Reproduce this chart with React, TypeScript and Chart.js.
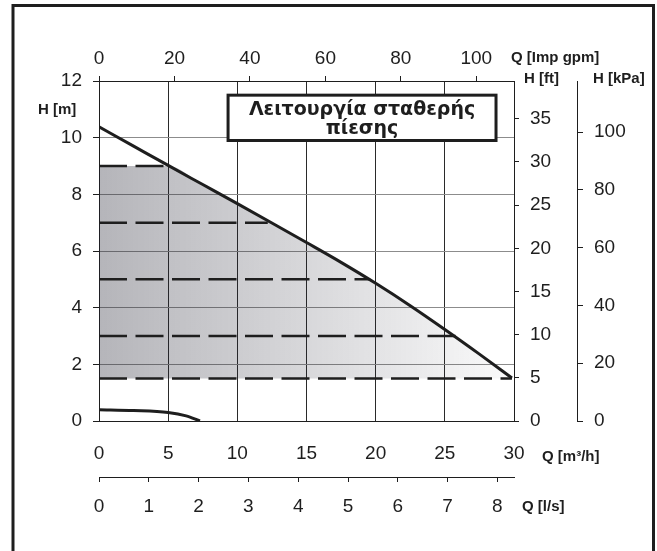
import React, { useEffect, useRef } from "react";
import { Chart, registerables } from "chart.js";

Chart.register(...registerables);

// Pump curve (flow in m³/h, head in m)
const flowM3h = [0, 2.5, 5, 7.5, 10, 12.5, 15, 17.5, 20, 22.5, 25, 27.5, 29.85];
const headM = [10.38, 9.7, 9.02, 8.345, 7.67, 6.99, 6.3, 5.6, 4.86, 4.07, 3.23, 2.36, 1.52];

// Lower (minimum) curve
const lowFlowM3h = [0, 2.5, 5, 6.3, 7.3];
const lowHeadM = [0.4, 0.37, 0.3, 0.18, 0.0];

// Constant pressure set points (dashed lines) and where they meet the curve
const pressureLevelsM = [9, 7, 5, 3, 1.5];
const pressureLevelEndFlow = [5.0, 12.2, 19.6, 25.8, 29.85];

// Axis ranges / steps
const flowMax = 30;
const headMax = 12;
const flowStepM3h = 5;
const headStepM = 2;
const gpmStep = 20;
const lpsStep = 1;
const ftStep = 5;
const kpaStep = 20;

// Unit conversions
const GPM_PER_M3H = 3.6662;
const LPS_PER_M3H = 1 / 3.6;
const FT_PER_M = 3.28084;
const KPA_PER_M = 9.80665;

const titleLines = ["Λειτουργία σταθερής", "πίεσης"];
const axisTitles = {
  hm: "H [m]",
  gpm: "Q [Imp gpm]",
  ft: "H [ft]",
  kpa: "H [kPa]",
  m3h: "Q [m³/h]",
  lps: "Q [l/s]",
};

const INK = "#1e1e1e";
const FONT = "'Liberation Sans', Arial, sans-serif";
const tickFont = { family: FONT, size: 19 };

export default function App() {
  const ref = useRef<HTMLCanvasElement>(null);

  useEffect(() => {
    const canvas = ref.current;
    if (!canvas) return;

    const curve = flowM3h.map((x, i) => ({ x, y: headM[i] }));
    const low = lowFlowM3h.map((x, i) => ({ x, y: lowHeadM[i] }));
    const top = pressureLevelsM[0];
    const fillPts = [
      { x: 0, y: top },
      ...curve.filter((p) => p.x >= pressureLevelEndFlow[0]).map((p) => ({ x: p.x, y: Math.min(p.y, top) })),
    ];
    const bottomLevel = pressureLevelsM[pressureLevelsM.length - 1];

    const dashSets = pressureLevelsM.map((h, i) => ({
      data: [
        { x: 0, y: h },
        { x: pressureLevelEndFlow[i], y: h },
      ],
      borderColor: INK,
      borderWidth: 2.5,
      borderDash: [28, 8.5],
      borderCapStyle: "butt" as const,
      pointRadius: 0,
      fill: false,
      tension: 0,
      order: 2,
    }));

    const decor = {
      id: "decor",
      afterDraw(chart: any) {
        const { ctx, scales } = chart;
        const xs = scales.x;
        const ys = scales.y;
        ctx.save();
        // outer frame
        ctx.strokeStyle = INK;
        ctx.lineWidth = 3;
        ctx.strokeRect(13, 5.5, 640.5, 700);
        // title box
        const bl = xs.getPixelForValue(9.33);
        const br = xs.getPixelForValue(28.7);
        const bt = ys.getPixelForValue(11.5);
        const bb = ys.getPixelForValue(9.9);
        ctx.fillStyle = "#fff";
        ctx.fillRect(bl, bt, br - bl, bb - bt);
        ctx.lineWidth = 3;
        ctx.strokeRect(bl, bt, br - bl, bb - bt);
        ctx.fillStyle = INK;
        ctx.font = "bold 19px 'DejaVu Sans', sans-serif";
        ctx.textAlign = "center";
        ctx.textBaseline = "middle";
        const cx = (bl + br) / 2;
        ctx.fillText(titleLines[0], cx, bt + 15);
        ctx.fillText(titleLines[1], cx, bt + 34);
        // axis titles
        ctx.font = `bold 15px ${FONT}`;
        ctx.textAlign = "left";
        ctx.fillText(axisTitles.hm, 38, 110);
        ctx.fillText(axisTitles.gpm, 511, 58);
        ctx.fillText(axisTitles.ft, 524, 79);
        ctx.fillText(axisTitles.kpa, 593, 79);
        ctx.fillText(axisTitles.m3h, 542, 457);
        ctx.fillText(axisTitles.lps, 522, 507);
        ctx.restore();
      },
    };

    const chart = new Chart(canvas, {
      type: "line",
      data: {
        datasets: [
          {
            data: curve,
            borderColor: INK,
            borderWidth: 3,
            pointRadius: 0,
            fill: false,
            cubicInterpolationMode: "monotone",
            order: 0,
          },
          {
            data: low,
            borderColor: INK,
            borderWidth: 3,
            pointRadius: 0,
            fill: false,
            cubicInterpolationMode: "monotone",
            order: 1,
          },
          ...dashSets,
          {
            data: fillPts,
            borderWidth: 0,
            borderColor: "rgba(0,0,0,0)",
            pointRadius: 0,
            cubicInterpolationMode: "monotone",
            fill: { value: bottomLevel },
            backgroundColor: (c: any) => {
              const area = c.chart.chartArea;
              if (!area) return "rgba(30,30,45,0.2)";
              const g = c.chart.ctx.createLinearGradient(area.left, 0, area.right, 0);
              g.addColorStop(0, "rgba(30,30,45,0.33)");
              g.addColorStop(1, "rgba(30,30,45,0.02)");
              return g;
            },
            order: 10,
          } as any,
        ],
      },
      options: {
        responsive: false,
        animation: false,
        devicePixelRatio: 1,
        layout: { padding: { left: 0, right: 20, top: 0, bottom: 0 } },
        plugins: { legend: { display: false }, tooltip: { enabled: false } },
        scales: {
          x: {
            type: "linear",
            position: "bottom",
            weight: 0,
            min: 0,
            max: flowMax,
            ticks: { stepSize: flowStepM3h, padding: 21, color: INK, font: tickFont, maxRotation: 0, includeBounds: false },
            grid: { color: "#2a2a2a", lineWidth: 1, drawTicks: false },
            border: { display: true, color: INK, width: 1 },
            afterFit: (s: any) => {
              s.height = 56;
            },
          },
          x3: {
            type: "linear",
            position: "bottom",
            weight: 1,
            min: 0,
            max: flowMax * LPS_PER_M3H,
            ticks: { stepSize: lpsStep, padding: 13, color: INK, font: tickFont, maxRotation: 0, includeBounds: false },
            grid: { drawOnChartArea: false, tickLength: 5, color: INK },
            border: { display: true, color: INK, width: 1 },
            afterFit: (s: any) => {
              s.height = 74;
            },
          },
          x2: {
            type: "linear",
            position: "top",
            min: 0,
            max: flowMax * GPM_PER_M3H,
            ticks: { stepSize: gpmStep, padding: 6, color: INK, font: tickFont, maxRotation: 0, includeBounds: false },
            grid: { drawOnChartArea: false, tickLength: 5, color: INK },
            border: { display: true, color: INK, width: 1 },
            afterFit: (s: any) => {
              s.height = 81;
            },
          },
          y: {
            type: "linear",
            position: "left",
            min: 0,
            max: headMax,
            ticks: { stepSize: headStepM, padding: 11, color: INK, font: tickFont, includeBounds: false },
            grid: {
              color: (c: any) =>
                c.tick && (c.tick.value === 0 || c.tick.value === headMax) ? "rgba(0,0,0,0)" : "#8c8c8c",
              tickColor: INK,
              tickLength: 6,
              lineWidth: 1,
            },
            border: { display: true, color: INK, width: 1 },
            afterFit: (s: any) => {
              s.width = 99;
            },
          },
          y2: {
            type: "linear",
            position: "right",
            weight: 0,
            min: 0,
            max: headMax * FT_PER_M,
            ticks: { stepSize: ftStep, padding: 11, color: INK, font: tickFont, includeBounds: false },
            grid: { drawOnChartArea: false, tickLength: 5, color: INK },
            border: { display: true, color: INK, width: 1 },
            afterFit: (s: any) => {
              s.width = 63;
            },
          },
          y3: {
            type: "linear",
            position: "right",
            weight: 1,
            min: 0,
            max: headMax * KPA_PER_M,
            ticks: { stepSize: kpaStep, padding: 11, color: INK, font: tickFont, includeBounds: false },
            grid: { drawOnChartArea: false, tickLength: 6, color: INK },
            border: { display: true, color: INK, width: 1 },
            afterFit: (s: any) => {
              s.width = 60;
            },
          },
        } as any,
      },
      plugins: [decor],
    });

    return () => chart.destroy();
  }, []);

  return (
    <div style={{ position: "absolute", left: 0, top: 0, width: 657, height: 551, background: "#fff" }}>
      <canvas ref={ref} width={657} height={551} style={{ display: "block" }} />
    </div>
  );
}
